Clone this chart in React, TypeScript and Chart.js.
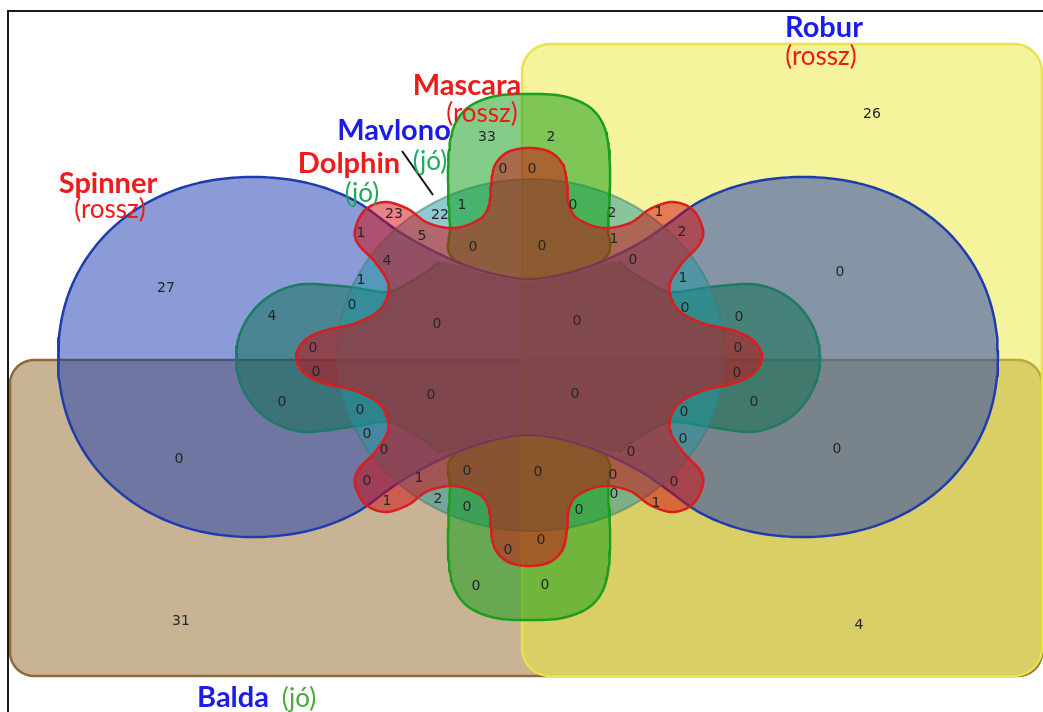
import React, { useEffect, useRef } from 'react';
import { Chart, registerables } from 'chart.js';

Chart.register(...registerables);

const W = 1043;
const H = 712;

// ---- Set labels ----
const SET_NAMES = ['Spinner', 'Robur', 'Mascara', 'Mavlono', 'Dolphin', 'Balda'];
const SET_VERDICTS = ['(rossz)', '(rossz)', '(rossz)', '(jó)', '(jó)', '(jó)'];
const SET_NAME_COLORS = ['#ee1b1b', '#1c1ce8', '#ee1b1b', '#1c1ce8', '#ee1b1b', '#1c1ce8'];
const SET_VERDICT_COLORS = ['#ee1b1b', '#ee1b1b', '#ee1b1b', '#1eaa60', '#1eaa60', '#4caa3a'];
const NAME_POS: [number, number][] = [[108, 193], [824, 37], [467, 95], [394, 140], [349, 173], [233, 707]];
const VERDICT_POS: [number, number][] = [[110, 218], [821, 65], [482, 122], [430, 170], [362, 202], [299, 707]];
const POINTER_LINE: [number, number][] = [[402, 151], [433, 195]];

// ---- Region counts and where each is written ----
const REGION_COUNTS = [
  27, 26, 31, 4, 33, 2, 0, 0, 23, 22, 1, 0, 2, 1, 1, 5, 0, 0, 1, 2, 4, 0, 1, 1,
  4, 0, 0, 0, 0, 0, 0, 0, 0, 0, 0, 0, 0, 0, 0, 0, 0, 0, 0, 0, 0, 0, 0, 1, 0, 0,
  0, 0, 0, 1, 2, 0, 0, 0, 1, 0, 0, 0, 0,
];
const REGION_POS: [number, number][] = [
  [166, 288], [872, 114], [181, 621], [859, 625], [487, 137], [551, 137], [503, 169], [532, 169],
  [394, 214], [440, 215], [462, 205], [573, 205], [612, 213], [659, 212], [361, 233], [422, 236],
  [473, 247], [542, 246], [614, 239], [682, 232], [387, 261], [633, 260], [361, 280], [683, 278],
  [272, 316], [352, 305], [437, 324], [577, 321], [685, 308], [739, 317], [840, 272], [313, 348],
  [316, 372], [738, 348], [737, 373], [282, 402], [360, 410], [431, 395], [575, 394], [684, 412],
  [754, 402], [367, 434], [683, 439], [384, 450], [631, 452], [179, 459], [837, 449], [419, 478],
  [467, 471], [538, 472], [613, 475], [367, 481], [674, 482], [387, 501], [438, 499], [467, 507],
  [579, 510], [614, 494], [656, 503], [508, 550], [541, 540], [476, 586], [545, 585],
];

// ---- Shape geometry (outline control points) ----
type P = [number, number];
const CX = 529;
const CY = 357;
const mirX = (p: P): P => [2 * CX - p[0], p[1]];
const mirY = (p: P): P => [p[0], 2 * CY - p[1]];

function roundRect(x0: number, y0: number, x1: number, y1: number, r: number): P[] {
  const pts: P[] = [];
  const corners = [
    [x1 - r, y0 + r, -90, 0],
    [x1 - r, y1 - r, 0, 90],
    [x0 + r, y1 - r, 90, 180],
    [x0 + r, y0 + r, 180, 270],
  ];
  for (const [cx, cy, a0, a1] of corners) {
    for (let i = 0; i <= 10; i++) {
      const a = ((a0 + ((a1 - a0) * i) / 10) * Math.PI) / 180;
      pts.push([cx + r * Math.cos(a), cy + r * Math.sin(a)]);
    }
  }
  pts.push(pts[0]);
  return pts;
}

function arc(cx: number, cy: number, rx: number, ry: number, a0: number, a1: number, step: number, n = 2): P[] {
  const out: P[] = [];
  const k = Math.max(1, Math.round(Math.abs(a1 - a0) / step));
  for (let i = 0; i <= k; i++) {
    const a = ((a0 + ((a1 - a0) * i) / k) * Math.PI) / 180;
    const c = Math.cos(a);
    const s = Math.sin(a);
    out.push([
      cx + rx * Math.sign(c) * Math.pow(Math.abs(c), 2 / n),
      cy + ry * Math.sign(s) * Math.pow(Math.abs(s), 2 / n),
    ]);
  }
  return out;
}

function closedSpline(ctrl: P[], per = 8): P[] {
  const n = ctrl.length;
  const out: P[] = [];
  const f = (a: number, b: number, c: number, d: number, t: number) => {
    const t2 = t * t;
    const t3 = t2 * t;
    return 0.5 * (2 * b + (-a + c) * t + (2 * a - 5 * b + 4 * c - d) * t2 + (-a + 3 * b - 3 * c + d) * t3);
  };
  for (let i = 0; i < n; i++) {
    const p0 = ctrl[(i - 1 + n) % n];
    const p1 = ctrl[i];
    const p2 = ctrl[(i + 1) % n];
    const p3 = ctrl[(i + 2) % n];
    for (let s = 0; s < per; s++) {
      const t = s / per;
      out.push([f(p0[0], p1[0], p2[0], p3[0], t), f(p0[1], p1[1], p2[1], p3[1], t)]);
    }
  }
  out.push(out[0]);
  return out;
}

// Spinner (blue): two lobes joined by a waist
const BLUE_WAIST_TOP: P[] = [[638, 244], [603, 261], [568, 273], [529, 279], [490, 273], [455, 261], [420, 244]];
const blueCtrl: P[] = [
  ...arc(253, 357, 195, 180, -45, -315, 15, 2.1),
  ...BLUE_WAIST_TOP.slice().reverse().map(mirY),
  ...arc(803, 357, 195, 180, 135, -135, 15, 2.1),
  ...BLUE_WAIST_TOP,
];

// teal dumbbell: side lobes, its middle runs along the blue waist
const TEAL_TOP_BAND: P[] = [
  [710, 287], [671, 292], [648, 282], [630, 271], [613, 262], [568, 275], [529, 281], [490, 275],
  [445, 262], [428, 271], [410, 282], [387, 292], [350, 287],
];
const tealCtrl: P[] = [
  ...arc(310, 358, 74, 74, -90, -270, 15),
  ...TEAL_TOP_BAND.slice().reverse().map(mirY),
  ...arc(746, 358, 74, 74, 90, -90, 15),
  ...TEAL_TOP_BAND,
];

// Mascara green: upper and lower lobes
const GREEN_TOP: P[] = [
  [529, 94], [562, 96], [588, 106], [603, 124], [609, 150], [610, 185], [608, 225], [607, 256],
  [568, 272], [529, 279], [490, 272], [451, 256], [450, 225], [448, 185], [449, 150], [455, 124],
  [470, 106], [496, 96],
];
const GREEN_BOTTOM: P[] = GREEN_TOP.map(mirY).reverse();

// red flower, one quadrant (top -> right), mirrored
const RED_Q1: P[] = [
  [529, 148], [550, 152], [563, 165], [567, 185], [569, 205], [578, 219], [603, 228], [630, 223],
  [650, 209], [673, 202], [693, 210], [703, 230], [699, 245], [683, 262], [670, 283], [672, 300],
  [682, 313], [705, 324], [735, 331], [754, 341], [762, 357],
];
const redRight: P[] = [...RED_Q1, ...RED_Q1.slice().reverse().slice(1).map(mirY)];
const redCtrl: P[] = [...redRight, ...redRight.slice().reverse().slice(1, -1).map(mirX)];

interface ShapeDef {
  label: string;
  pts: P[];
  fill: string;
  border: string;
  width: number;
  hideBox?: [number, number, number, number];
}

// listed bottom to top
const SHAPES: ShapeDef[] = [
  { label: 'Balda', pts: roundRect(10, 360, 1042, 676, 24), fill: 'rgba(145,105,41,0.5)', border: '#8e6b36', width: 2.5 },
  { label: 'Robur', pts: roundRect(522, 44, 1042, 676, 28), fill: 'rgba(235,231,55,0.5)', border: '#e8e24c', width: 2.5 },
  { label: 'Spinner', pts: closedSpline(blueCtrl), fill: 'rgba(21,55,175,0.5)', border: '#1f3cae', width: 2.5 },
  { label: 'Dolphin', pts: closedSpline(tealCtrl), fill: 'rgba(10,112,80,0.5)', border: '#1d7a66', width: 2.5, hideBox: [440, 250, 618, 470] },
  { label: 'Mavlono', pts: arc(531, 355, 194, 176, 0, 360, 3), fill: 'rgba(30,150,160,0.5)', border: 'rgba(60,125,115,0.55)', width: 2 },
  { label: 'Mascara', pts: closedSpline(GREEN_TOP), fill: 'rgba(8,155,18,0.5)', border: '#1c9e1c', width: 2.5, hideBox: [455, 240, 602, 300] },
  { label: 'Mascara (lower)', pts: closedSpline(GREEN_BOTTOM), fill: 'rgba(8,155,18,0.5)', border: '#1c9e1c', width: 2.5, hideBox: [455, 414, 602, 474] },
  { label: 'Flower', pts: closedSpline(redCtrl), fill: 'rgba(210,6,14,0.5)', border: '#d81e1e', width: 2.5 },
];

const inBox = (p: P, b?: [number, number, number, number]) =>
  !!b && p[0] >= b[0] && p[0] <= b[2] && p[1] >= b[1] && p[1] <= b[3];

function buildDatasets() {
  const ds: any[] = [];
  SHAPES.forEach((s, i) => {
    const base = 100 - i * 10;
    const common = {
      tension: 0,
      pointRadius: 0,
      pointHoverRadius: 0,
      pointHitRadius: 0,
      borderJoinStyle: 'round',
      borderCapStyle: 'round',
    };
    ds.push({
      ...common,
      label: s.label + ' fill',
      data: s.pts.map(([x, y]) => ({ x, y })),
      backgroundColor: s.fill,
      borderColor: 'rgba(0,0,0,0)',
      borderWidth: 0,
      fill: 'shape',
      order: base,
    });
    ds.push({
      ...common,
      label: s.label,
      data: s.pts.map((p) => ({ x: p[0], y: inBox(p, s.hideBox) ? null : p[1] })),
      borderColor: s.border,
      borderWidth: s.width,
      backgroundColor: 'rgba(0,0,0,0)',
      fill: false,
      spanGaps: false,
      order: base - 5,
    });
  });
  return ds;
}

const vennPlugin = {
  id: 'vennText',
  beforeDraw(chart: any) {
    const { ctx } = chart;
    ctx.save();
    ctx.fillStyle = '#ffffff';
    ctx.fillRect(0, 0, chart.width, chart.height);
    ctx.restore();
  },
  afterDatasetsDraw(chart: any) {
    const { ctx, scales } = chart;
    const px = (v: number) => scales.x.getPixelForValue(v);
    const py = (v: number) => scales.y.getPixelForValue(v);
    ctx.save();
    ctx.strokeStyle = '#111';
    ctx.lineWidth = 2;
    ctx.beginPath();
    ctx.moveTo(px(POINTER_LINE[0][0]), py(POINTER_LINE[0][1]));
    ctx.lineTo(px(POINTER_LINE[1][0]), py(POINTER_LINE[1][1]));
    ctx.stroke();

    ctx.font = '14px "DejaVu Sans"';
    ctx.fillStyle = '#262626';
    ctx.textAlign = 'center';
    ctx.textBaseline = 'middle';
    REGION_COUNTS.forEach((c, i) => {
      ctx.fillText(String(c), px(REGION_POS[i][0]), py(REGION_POS[i][1]));
    });

    ctx.textBaseline = 'alphabetic';
    SET_NAMES.forEach((name, i) => {
      ctx.font = 'bold 29px Lato';
      ctx.fillStyle = SET_NAME_COLORS[i];
      ctx.fillText(name, px(NAME_POS[i][0]), py(NAME_POS[i][1]));
      ctx.font = '26px Lato';
      ctx.fillStyle = SET_VERDICT_COLORS[i];
      ctx.fillText(SET_VERDICTS[i], px(VERDICT_POS[i][0]), py(VERDICT_POS[i][1]));
    });

    // frame
    ctx.strokeStyle = '#1a1a1a';
    ctx.lineWidth = 2;
    ctx.beginPath();
    ctx.moveTo(8, H + 5);
    ctx.lineTo(8, 11);
    ctx.lineTo(W + 5, 11);
    ctx.stroke();
    ctx.restore();
  },
};

export default function App() {
  const ref = useRef<HTMLCanvasElement | null>(null);
  useEffect(() => {
    if (!ref.current) return;
    const chart = new Chart(ref.current, {
      type: 'line',
      data: { datasets: buildDatasets() },
      options: {
        responsive: false,
        animation: false,
        events: [],
        layout: { padding: 0 },
        plugins: { legend: { display: false }, tooltip: { enabled: false } },
        scales: {
          x: { type: 'linear', min: 0, max: W, display: false },
          y: { type: 'linear', min: 0, max: H, reverse: true, display: false },
        },
      },
      plugins: [vennPlugin],
    });
    return () => chart.destroy();
  }, []);
  return (
    <div style={{ position: 'fixed', left: 0, top: 0, width: W, height: H, background: '#fff' }}>
      <canvas ref={ref} width={W} height={H} style={{ width: W, height: H, display: 'block' }} />
    </div>
  );
}
